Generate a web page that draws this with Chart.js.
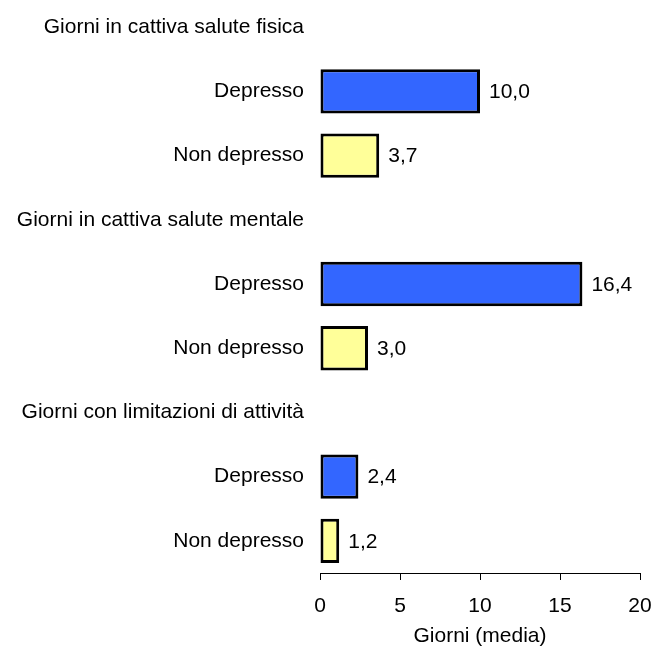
<!DOCTYPE html>
<html>
<head>
<meta charset="utf-8">
<script src="https://cdn.jsdelivr.net/npm/chart.js@4.4.0/dist/chart.umd.js"></script>
<style>
    html, body { margin: 0; padding: 0; background: #ffffff; overflow: hidden; }
    #wrap { position: absolute; left: 0; top: -5px; width: 652px; height: 656px; }
</style>
</head>
<body>
<div id="wrap"><canvas id="chart"></canvas></div>
<script>
    // Row labels (group headers carry no bar)
    const categories = [
        'Giorni in cattiva salute fisica', 'Depresso', 'Non depresso',
        'Giorni in cattiva salute mentale', 'Depresso', 'Non depresso',
        'Giorni con limitazioni di attività', 'Depresso', 'Non depresso'
    ];
    // Mean days per row
    const values = [null, 10.0, 3.7, null, 16.4, 3.0, null, 2.4, 1.2];
    const xTicks = [0, 5, 10, 15, 20];
    const axisTitle = 'Giorni (media)';

    const FONT = "'Liberation Sans', Arial, sans-serif";
    const BLUE = '#3366ff';
    const YELLOW = '#ffff99';

    const barColors = categories.map(c => c === 'Depresso' ? BLUE : YELLOW);

    /**
     * Draws the value next to the end of each bar, Italian decimal comma
     */
    const valueLabels = {
        id: 'valueLabels',
        afterDatasetsDraw(chart) {
            const ctx = chart.ctx;
            const meta = chart.getDatasetMeta(0);
            ctx.save();
            ctx.font = '21px ' + FONT;
            ctx.fillStyle = '#000000';
            ctx.textAlign = 'left';
            ctx.textBaseline = 'middle';
            meta.data.forEach((bar, i) => {
                const v = values[i];
                if (v === null) return;
                ctx.fillText(v.toFixed(1).replace('.', ','), bar.x + 9, bar.y + 1);
            });
            ctx.restore();
        }
    };

    new Chart(document.getElementById('chart'), {
        type: 'bar',
        data: {
            labels: categories,
            datasets: [{
                data: values,
                backgroundColor: barColors,
                borderColor: '#000000',
                borderWidth: 3,
                borderSkipped: false,
                categoryPercentage: 1,
                barPercentage: 0.69
            }]
        },
        options: {
            indexAxis: 'y',
            responsive: true,
            maintainAspectRatio: false,
            animation: false,
            layout: { padding: { left: 0, right: 12, top: 0, bottom: 0 } },
            plugins: {
                legend: { display: false },
                tooltip: { enabled: false }
            },
            scales: {
                x: {
                    min: 0,
                    max: 20,
                    afterBuildTicks: s => { s.ticks = xTicks.map(v => ({ value: v })); },
                    afterFit: s => {
                        s.height = 78;
                        s.paddingLeft = 0;
                        s.paddingRight = 0;
                    },
                    ticks: {
                        color: '#000000',
                        padding: 14,
                        font: { family: FONT, size: 21 }
                    },
                    grid: {
                        drawOnChartArea: false,
                        drawTicks: true,
                        tickLength: 7,
                        tickColor: '#000000'
                    },
                    border: { display: true, color: '#000000', width: 1 },
                    title: {
                        display: true,
                        text: axisTitle,
                        color: '#000000',
                        font: { family: FONT, size: 21 },
                        padding: { top: 4, bottom: 2 }
                    }
                },
                y: {
                    afterFit: s => {
                        s.width = 320;
                        s.paddingTop = 0;
                        s.paddingBottom = 0;
                    },
                    ticks: {
                        color: '#000000',
                        padding: 16,
                        autoSkip: false,
                        font: { family: FONT, size: 21 }
                    },
                    grid: { display: false, drawTicks: false },
                    border: { display: false }
                }
            }
        },
        plugins: [valueLabels]
    });
</script>
</body>
</html>
